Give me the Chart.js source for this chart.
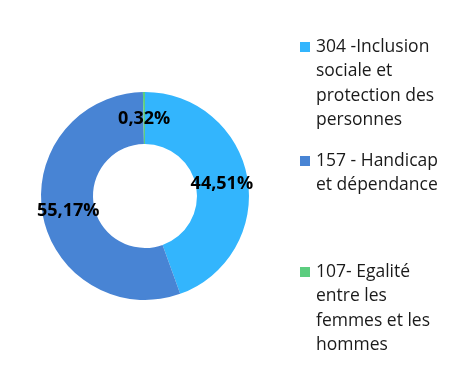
<!DOCTYPE html>
<html>
<head>
<meta charset="utf-8">
<script src="https://cdn.jsdelivr.net/npm/chart.js@4"></script>
<style>
  html, body { margin: 0; padding: 0; background: #fff; }
  #wrap { width: 461px; height: 391px; }
</style>
</head>
<body>
<div id="wrap"><canvas id="chart" width="461" height="391"></canvas></div>
<script>
// Données du graphique
const categories = ['304 -Inclusion sociale et protection des personnes', '157 - Handicap et dépendance', '107- Egalité entre les femmes et les hommes'];
const legendLines = [
  ['304 -Inclusion', 'sociale et', 'protection des', 'personnes'],
  ['157 - Handicap', 'et dépendance'],
  ['107- Egalité', 'entre les', 'femmes et les', 'hommes']
];
const values = [44.51, 55.17, 0.32];
const valueLabels = ['44,51%', '55,17%', '0,32%'];
const colors = ['#33b5fd', '#4884d4', '#5ccd7f'];

const legendTop = [47, 161, 272];   // position verticale de chaque entrée
const lineH = 24.5;

// Étiquettes de valeurs au centre des arcs
const arcLabels = {
  id: 'arcLabels',
  afterDatasetsDraw(chart) {
    const ctx = chart.ctx;
    const meta = chart.getDatasetMeta(0);
    ctx.save();
    ctx.font = 'bold 18px "Open Sans"';
    ctx.fillStyle = '#000';
    ctx.textAlign = 'center';
    ctx.textBaseline = 'middle';
    meta.data.forEach((arc, i) => {
      const p = arc.getCenterPoint();
      ctx.fillText(valueLabels[i], p.x, p.y + 1);
    });
    ctx.restore();
  }
};

// Légende à droite, sur plusieurs lignes
const sideLegend = {
  id: 'sideLegend',
  afterDraw(chart) {
    const ctx = chart.ctx;
    ctx.save();
    ctx.font = '17.5px "Open Sans"';
    ctx.textBaseline = 'middle';
    legendLines.forEach((lines, i) => {
      ctx.fillStyle = colors[i];
      ctx.fillRect(300, legendTop[i] - 5, 10, 10);
      ctx.fillStyle = '#1a1a1a';
      lines.forEach((t, j) => ctx.fillText(t, 316, legendTop[i] + j * lineH));
    });
    ctx.restore();
  }
};

new Chart(document.getElementById('chart'), {
  type: 'doughnut',
  data: {
    labels: categories,
    datasets: [{
      data: values,
      backgroundColor: colors,
      borderWidth: 0
    }]
  },
  options: {
    responsive: false,
    animation: false,
    cutout: '50%',
    layout: { padding: { left: 41, right: 212, top: 92, bottom: 91 } },
    plugins: {
      legend: { display: false },
      tooltip: { enabled: false }
    }
  },
  plugins: [arcLabels, sideLegend]
});
</script>
</body>
</html>
